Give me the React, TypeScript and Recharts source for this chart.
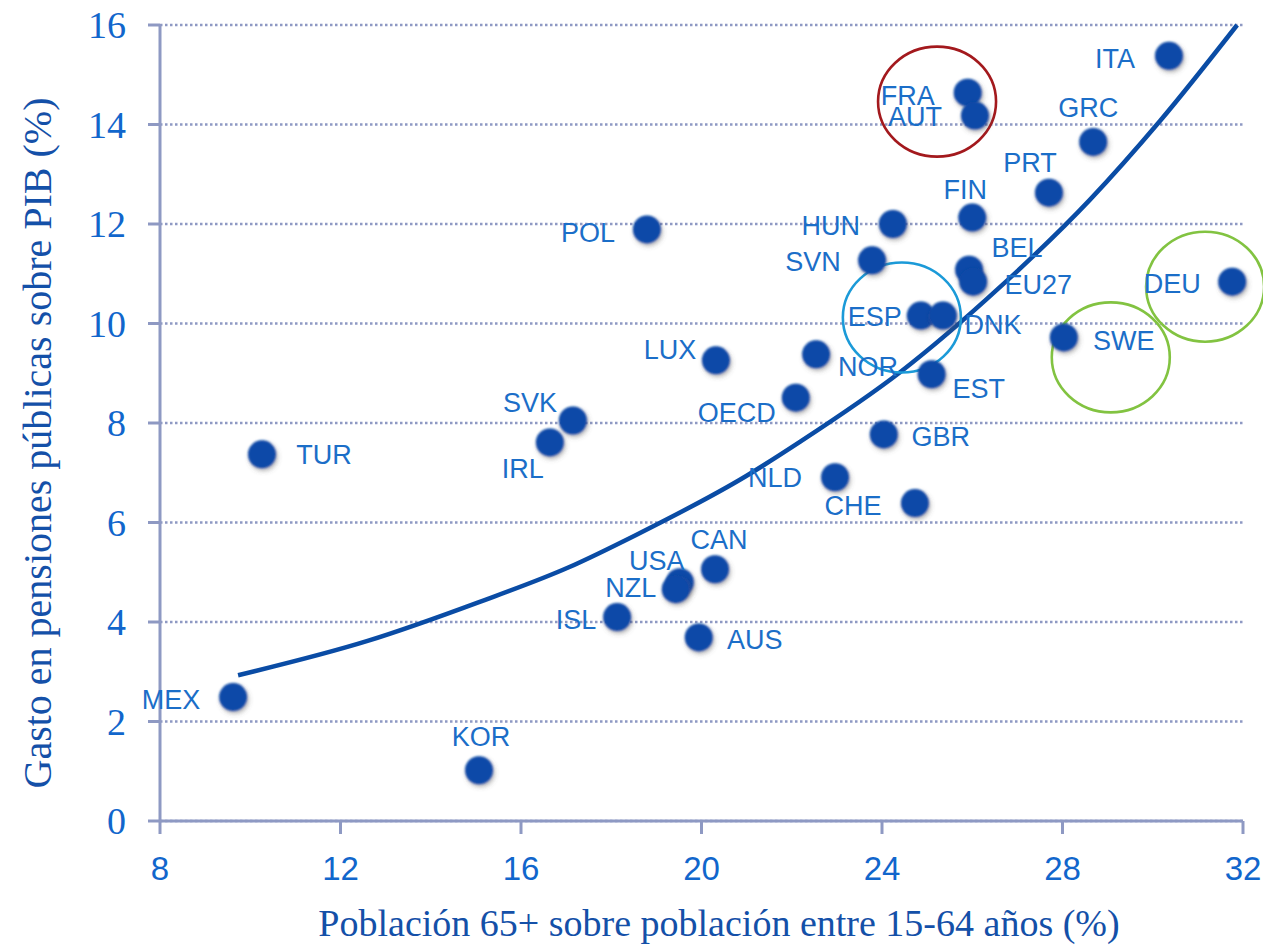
import React from 'react';
import {
  ComposedChart,
  Scatter,
  Line,
  XAxis,
  YAxis,
  CartesianGrid,
  ReferenceDot,
} from 'recharts';

// ---- data ----
const countries = [
  'ITA', 'FRA', 'AUT', 'GRC', 'PRT', 'FIN', 'HUN', 'POL', 'SVN', 'BEL', 'EU27',
  'DEU', 'ESP', 'DNK', 'SWE', 'LUX', 'NOR', 'EST', 'OECD', 'SVK', 'IRL', 'TUR',
  'GBR', 'NLD', 'CHE', 'CAN', 'USA', 'NZL', 'ISL', 'AUS', 'MEX', 'KOR',
];
const oldAgeRatio = [
  30.36, 25.9, 26.06, 28.68, 27.7, 26.0, 24.24, 18.79, 23.78, 25.93, 26.02,
  31.76, 24.86, 25.35, 28.03, 20.32, 22.54, 25.1, 22.09, 17.15, 16.64, 10.26,
  24.04, 22.96, 24.73, 20.3, 19.52, 19.43, 18.13, 19.94, 9.62, 15.07,
];
const pensionSpending = [
  15.38, 14.64, 14.18, 13.65, 12.63, 12.13, 12.0, 11.89, 11.27, 11.08, 10.84,
  10.84, 10.16, 10.16, 9.72, 9.26, 9.38, 8.98, 8.51, 8.05, 7.61, 7.37,
  7.77, 6.91, 6.39, 5.06, 4.8, 4.66, 4.1, 3.69, 2.49, 1.02,
];

// trend curve, points
const trendX = [9.73, 12.6, 15.07, 17.06, 18.55, 21.0, 22.18, 24.4, 26.6, 28.6, 30.16, 31.87];
const trendY = [2.93, 3.62, 4.4, 5.1, 5.75, 6.94, 7.62, 9.02, 10.72, 12.48, 14.07, 16.0];

// highlighted groups (ellipses)
const highlightX = [25.22, 24.44, 29.07, 31.16];
const highlightY = [14.46, 10.12, 9.32, 10.74];
const highlightColor = ['#a3191d', '#1b9ad8', '#82c341', '#82c341'];

const xTicks = [8, 12, 16, 20, 24, 28, 32];
const yTicks = [0, 2, 4, 6, 8, 10, 12, 14, 16];

// label placement (text centre offset from dot centre, px)
const labelOffset: Record<string, [number, number]> = {
  ITA: [-54, 3], FRA: [-60, 3], AUT: [-60, 1], GRC: [-5, -34], PRT: [-19, -30],
  FIN: [-7, -28], HUN: [-62, 2], POL: [-59, 4], SVN: [-59, 2], BEL: [48, -22],
  EU27: [65, 3], DEU: [-60, 2], ESP: [-46, 1], DNK: [50, 9], SWE: [60, 4],
  LUX: [-46, -10], NOR: [52, 13], EST: [47, 15], OECD: [-59, 15], SVK: [-43, -18],
  IRL: [-27, 27], TUR: [62, 1], GBR: [57, 3], NLD: [-60, 1], CHE: [-62, 3],
  CAN: [4, -29], USA: [-23, -21], NZL: [-45, -1], ISL: [-41, 3], AUS: [56, 3],
  MEX: [-62, 3], KOR: [2, -33],
};

const points = countries.map((c, i) => ({ name: c, x: oldAgeRatio[i], y: pensionSpending[i] }));
const trend = trendX.map((x, i) => ({ x, y: trendY[i] }));

const AXIS = '#8e99c3';
const TICK_BLUE = '#1166cc';
const TITLE_BLUE = '#1450a8';
const LABEL_BLUE = '#1b6ec8';
const DOT = '#0b4aa8';
const CURVE = '#0a4ca5';

const DotShape = (props: any) => {
  const { cx, cy, payload } = props;
  if (cx == null || cy == null) return null;
  const off = labelOffset[payload.name] || [0, -30];
  return (
    <g>
      <circle cx={cx} cy={cy} r={14} fill={DOT} filter="url(#dotShadow)" />
      <text
        x={cx + off[0]}
        y={cy + off[1]}
        textAnchor="middle"
        dominantBaseline="central"
        fontFamily="'Liberation Sans', Arial, sans-serif"
        fontSize={27}
        fill={LABEL_BLUE}
      >
        {payload.name}
      </text>
    </g>
  );
};

const FirstDotShape = (props: any) => (
  <g>
    <defs>
      <filter id="dotShadow" x="-50%" y="-50%" width="200%" height="200%">
        <feGaussianBlur in="SourceGraphic" stdDeviation="0.9" result="soft" />
        <feDropShadow in="soft" dx="1.5" dy="2.5" stdDeviation="2.2" floodColor="#555" floodOpacity="0.45" />
      </filter>
    </defs>
    <DotShape {...props} />
  </g>
);

const YTitle = () => (
  <text
    x={37}
    y={443}
    transform="rotate(-90 37 443)"
    textAnchor="middle"
    dominantBaseline="central"
    fontFamily="'Liberation Serif', 'Times New Roman', serif"
    fontSize={40}
    fill={TITLE_BLUE}
  >
    Gasto en pensiones públicas sobre PIB (%)
  </text>
);

const XTitle = () => (
  <text
    x={719}
    y={936}
    textAnchor="middle"
    fontFamily="'Liberation Serif', 'Times New Roman', serif"
    fontSize={38}
    fill={TITLE_BLUE}
  >
    Población 65+ sobre población entre 15-64 años (%)
  </text>
);

export default function App() {
  return (
    <div
      style={{
        position: 'absolute',
        left: 0,
        top: 0,
        width: 1263,
        height: 946,
        overflow: 'hidden',
        background: '#fff',
      }}
    >
      <ComposedChart
        width={1263}
        height={946}
        margin={{ top: 25, right: 20, bottom: 0, left: 0 }}
      >
        <CartesianGrid
          horizontal
          vertical={false}
          stroke={AXIS}
          strokeWidth={2.5}
          strokeDasharray="2.5 2.5"
        />
        <XAxis
          dataKey="x"
          type="number"
          domain={[8, 32]}
          ticks={xTicks}
          height={125}
          stroke={AXIS}
          strokeWidth={3}
          tickSize={13}
          tickMargin={23}
          tick={{ fill: TICK_BLUE, fontSize: 33, fontFamily: "'Liberation Sans', Arial, sans-serif" }}
          tickLine={{ stroke: AXIS, strokeWidth: 3 }}
          axisLine={{ stroke: AXIS, strokeWidth: 3 }}
          label={{ content: () => <XTitle /> }}
        />
        <YAxis
          type="number"
          domain={[0, 16]}
          ticks={yTicks}
          width={160}
          stroke={AXIS}
          strokeWidth={3}
          tickSize={12}
          tickMargin={22}
          tick={{ fill: TICK_BLUE, fontSize: 38, fontFamily: "'Liberation Serif', 'Times New Roman', serif" }}
          tickLine={{ stroke: AXIS, strokeWidth: 3 }}
          axisLine={{ stroke: AXIS, strokeWidth: 3 }}
          label={{ content: () => <YTitle /> }}
        />
        {highlightX.map((hx, i) => (
          <ReferenceDot
            key={'h' + i}
            x={hx}
            y={highlightY[i]}
            r={57}
            ifOverflow="visible"
            shape={(p: any) => (
              <ellipse
                cx={p.cx}
                cy={p.cy}
                rx={59}
                ry={55}
                fill="none"
                stroke={highlightColor[i]}
                strokeWidth={2.6}
              />
            )}
          />
        ))}
        <Scatter
          data={points}
          dataKey="y"
          isAnimationActive={false}
          shape={(p: any) => (p.index === 0 ? <FirstDotShape {...p} /> : <DotShape {...p} />)}
        />
        <Line
          data={trend}
          dataKey="y"
          type="monotone"
          stroke={CURVE}
          strokeWidth={4.5}
          dot={false}
          activeDot={false}
          isAnimationActive={false}
        />
      </ComposedChart>
    </div>
  );
}
